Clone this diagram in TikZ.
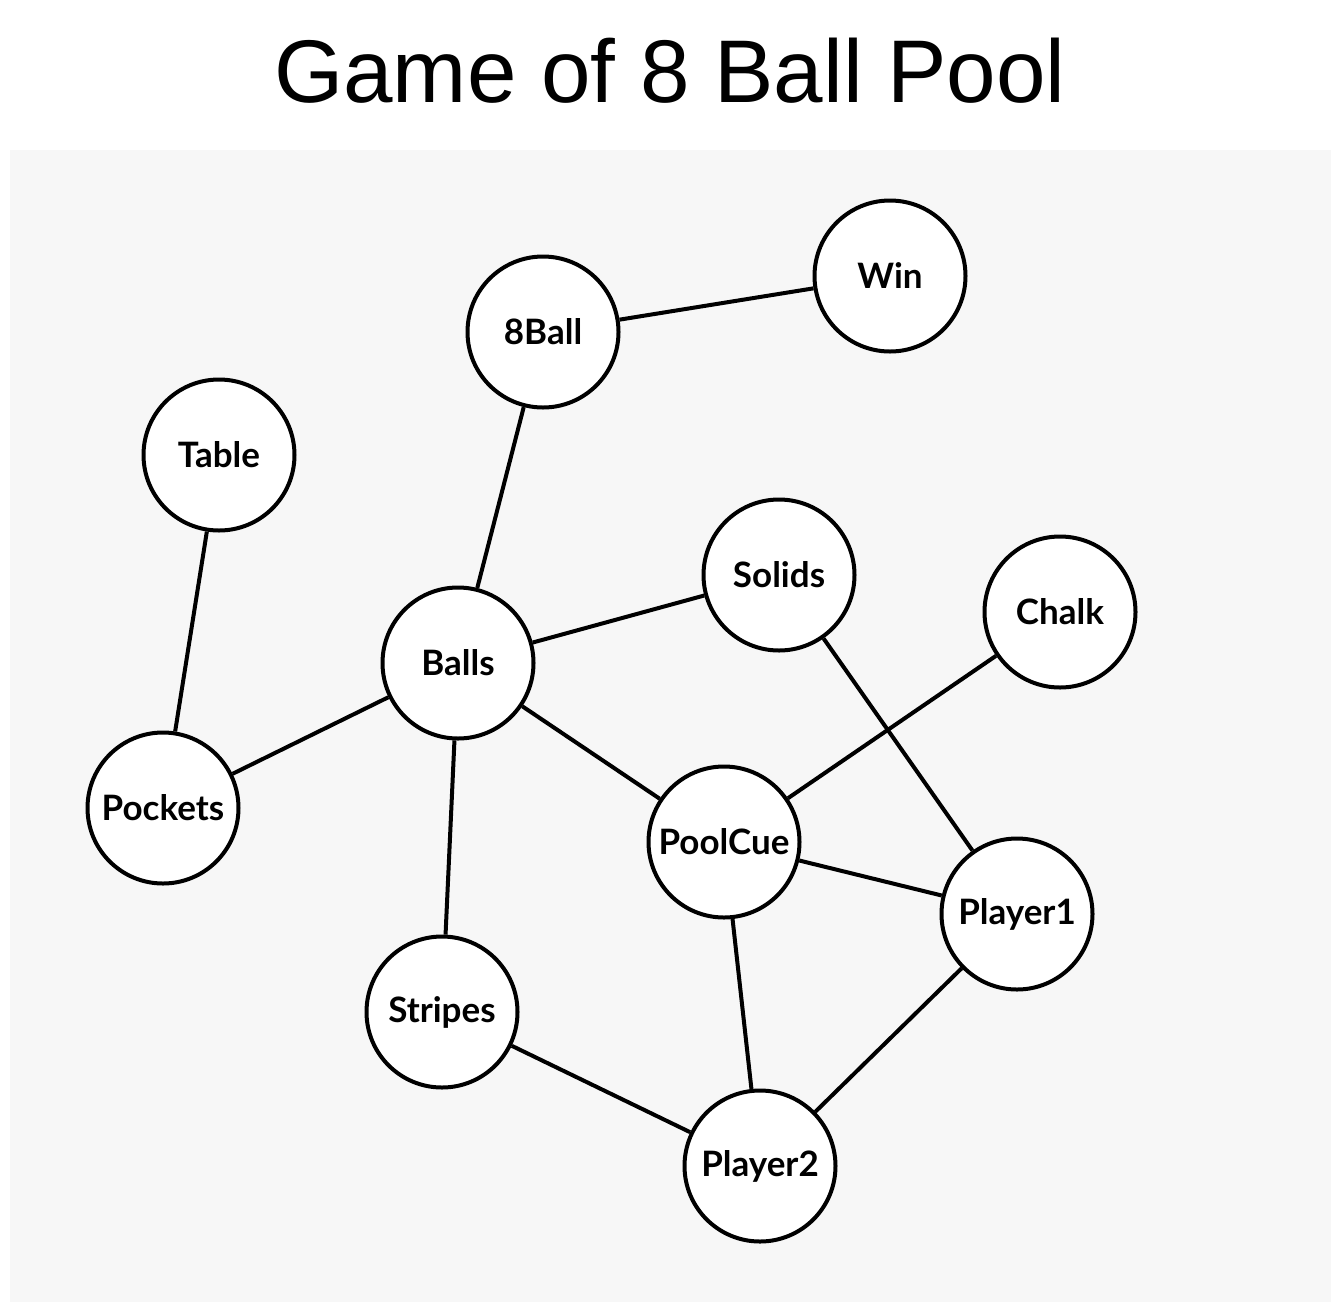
\documentclass[tikz,border=0pt]{standalone}
\usepackage{fontspec}
\setmainfont{Liberation Sans}
\newfontfamily\latofont{Lato}
\definecolor{panelbg}{HTML}{F7F7F7}
\begin{document}
\begin{tikzpicture}[x=1pt,y=-1pt,
  ball/.style={circle, draw=black, fill=white, line width=4pt, minimum size=151pt, inner sep=0pt, font=\latofont\bfseries\fontsize{35}{40}\selectfont},
  link/.style={line width=4pt}]
\useasboundingbox (0,0) rectangle (1336,1302);
\fill[white] (0,0) rectangle (1336,1302);
\fill[panelbg] (10,150) rectangle (1331,1302);
\node[font=\fontsize{89}{100}\selectfont, anchor=base] (title) at (670,102) {Game of 8 Ball Pool};
\node[ball] (win) at (890,276) {Win};
\node[ball] (eight) at (543,332) {8Ball};
\node[ball] (table) at (219,455) {Table};
\node[ball] (solids) at (779,575) {Solids};
\node[ball] (chalk) at (1060,612) {Chalk};
\node[ball] (balls) at (458,663) {Balls};
\node[ball] (pockets) at (163,808) {Pockets};
\node[ball] (poolcue) at (724,842) {PoolCue};
\node[ball] (player1) at (1017,914) {Player1};
\node[ball] (stripes) at (442,1012) {Stripes};
\node[ball] (player2) at (760,1166) {Player2};
\draw[link] (eight) -- (win);
\draw[link] (eight) -- (balls);
\draw[link] (table) -- (pockets);
\draw[link] (balls) -- (solids);
\draw[link] (balls) -- (pockets);
\draw[link] (balls) -- (poolcue);
\draw[link] (balls) -- (stripes);
\draw[link] (solids) -- (player1);
\draw[link] (chalk) -- (poolcue);
\draw[link] (poolcue) -- (player1);
\draw[link] (poolcue) -- (player2);
\draw[link] (player1) -- (player2);
\draw[link] (stripes) -- (player2);
\end{tikzpicture}
\end{document}
